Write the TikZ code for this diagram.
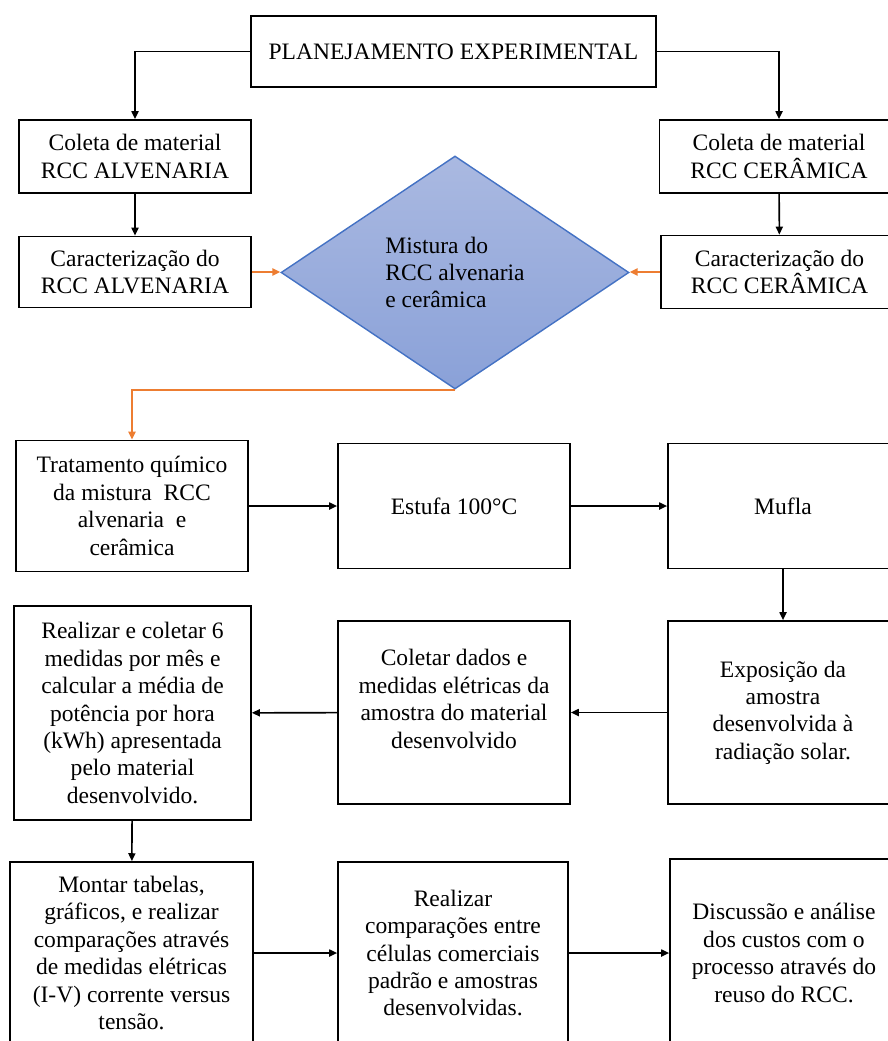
\documentclass[tikz,border=0pt]{standalone}
\usepackage{fontspec}
\setmainfont{Liberation Serif}
\usetikzlibrary{arrows.meta,shapes.geometric}
\definecolor{laranja}{HTML}{ED7D31}
\definecolor{azulborda}{HTML}{4472C4}
\definecolor{azulcima}{HTML}{AAB9E1}
\definecolor{azulbaixo}{HTML}{8AA1D8}
\begin{document}
\begin{tikzpicture}[x=0.02cm,y=-0.02cm,>={Triangle[length=4.5pt,width=4pt]}]
  \tikzstyle{box}=[draw, line width=1pt, inner sep=2pt, align=center,
    font=\fontsize{13.4}{15.6}\selectfont]
  \tikzstyle{seta}=[->, line width=0.9pt]
  \tikzstyle{setal}=[->, line width=1.1pt, laranja]

  \useasboundingbox (0,0) rectangle (888,1041);
  \clip (0,0) rectangle (888,1041);

  \node[box, minimum width=8.10cm, minimum height=1.42cm] (plan) at (453.5,51.5) {PLANEJAMENTO EXPERIMENTAL};

  \node[box, minimum width=4.64cm, minimum height=1.46cm] (colA) at (135,156.5) {Coleta de material\\RCC ALVENARIA};
  \node[box, minimum width=4.78cm, minimum height=1.46cm] (colC) at (779,156.5) {Coleta de material\\RCC CERÂMICA};
  \node[box, minimum width=4.64cm, minimum height=1.42cm] (carA) at (135,272) {Caracterização do\\RCC ALVENARIA};
  \node[box, minimum width=4.74cm, minimum height=1.46cm] (carC) at (779.5,272) {Caracterização do\\RCC CERÂMICA};

  \node[diamond, draw=azulborda, line width=0.8pt, top color=azulcima, bottom color=azulbaixo,
    minimum width=6.96cm, minimum height=4.66cm, inner sep=0pt, align=left,
    font=\fontsize{13.4}{15.6}\selectfont] (mix) at (455,272.5) {Mistura do\\RCC alvenaria\\e cerâmica};

  \node[box, minimum width=4.64cm, minimum height=2.62cm] (trat) at (132,506) {Tratamento químico\\da mistura~~RCC\\alvenaria~~e\\cerâmica};
  \node[box, minimum width=4.64cm, minimum height=2.50cm] (estufa) at (454,506) {Estufa 100°C};
  \node[box, minimum width=4.60cm, minimum height=2.50cm] (mufla) at (783,506) {Mufla};

  \node[box, minimum width=4.74cm, minimum height=4.28cm] (medir) at (132.5,713) {Realizar e coletar 6\\medidas por mês e\\calcular a média de\\potência por hora\\(kWh) apresentada\\pelo material\\desenvolvido.};
  \node[box, minimum width=4.64cm, minimum height=3.66cm] (coletar) at (454,712.5) {Coletar dados e\\medidas elétricas da\\amostra do material\\desenvolvido\\ ~};
  \node[box, minimum width=4.60cm, minimum height=3.66cm] (expo) at (783,712.5) {Exposição da\\amostra\\desenvolvida à\\radiação solar.};

  \node[box, minimum width=4.86cm, minimum height=3.64cm] (montar) at (131.5,953) {Montar tabelas,\\gráficos, e realizar\\comparações através\\de medidas elétricas\\(I-V) corrente versus\\tensão.};
  \node[box, minimum width=4.60cm, minimum height=3.64cm] (compar) at (453,953) {Realizar\\comparações entre\\células comerciais\\padrão e amostras\\desenvolvidas.};
  \node[box, minimum width=4.56cm, minimum height=3.76cm] (disc) at (784,953) {Discussão e análise\\dos custos com o\\processo através do\\reuso do RCC.};

  \draw[seta] (plan.west) -| (colA.north);
  \draw[seta] (plan.east) -| (colC.north);
  \draw[seta] (colA) -- (carA);
  \draw[seta] (colC) -- (carC);
  \draw[setal] (carA.east) -- (carA.east -| mix.west);
  \draw[setal] (carC.west) -- (carC.west -| mix.east);
  \draw[setal] (mix.south) -| (trat.north);
  \draw[seta] (trat) -- (estufa);
  \draw[seta] (estufa) -- (mufla);
  \draw[seta] (mufla) -- (expo);
  \draw[seta] (expo) -- (coletar);
  \draw[seta] (coletar) -- (medir);
  \draw[seta] (medir) -- (montar);
  \draw[seta] (montar) -- (compar);
  \draw[seta] (compar) -- (disc);
\end{tikzpicture}
\end{document}
